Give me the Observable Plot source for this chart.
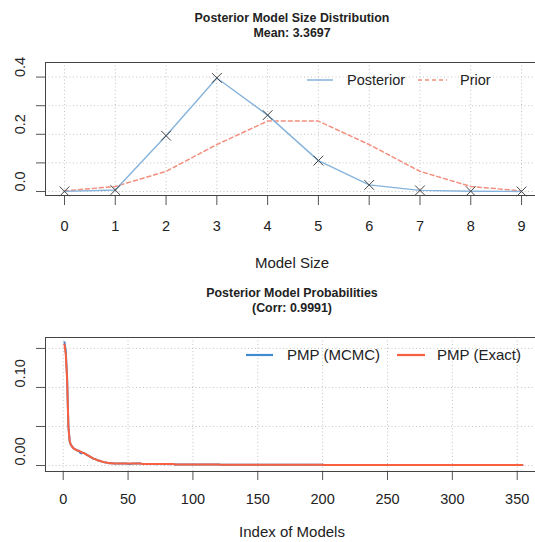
<!DOCTYPE html>
<html><head><meta charset="utf-8">
<script src="https://cdn.jsdelivr.net/npm/d3@7"></script>
<script src="https://cdn.jsdelivr.net/npm/@observablehq/plot@0.6"></script>
<style>
body{margin:0;background:#fff;}
#wrap{position:relative;width:535px;height:542px;overflow:hidden;font-family:"Liberation Sans",Arial,sans-serif;color:#222;}
.title{position:absolute;left:0;width:584px;text-align:center;font-weight:bold;font-size:12.4px;line-height:14px;white-space:nowrap;}
.axt{position:absolute;left:0;width:584px;text-align:center;font-size:15px;line-height:15px;white-space:nowrap;}
.plot{position:absolute;left:0;}
#legend{position:absolute;left:0;top:0;}
</style></head>
<body><div id="wrap">
<div class="title" style="top:11px">Posterior Model Size Distribution</div>
<div class="title" style="top:26px">Mean: 3.3697</div>
<div class="axt" style="top:255px">Model Size</div>
<div class="title" style="top:286px">Posterior Model Probabilities</div>
<div class="title" style="top:301px">(Corr: 0.9991)</div>
<div class="axt" style="top:524px">Index of Models</div>
</div>
<script>
// ---- data: model size distribution ----
const modelSize = [0, 1, 2, 3, 4, 5, 6, 7, 8, 9];
const posteriorSize = [0.0005, 0.005, 0.195, 0.397, 0.267, 0.108, 0.023, 0.004, 0.001, 0.0002];
const priorSize = [0.002, 0.0176, 0.0703, 0.1641, 0.2461, 0.2461, 0.1641, 0.0703, 0.0176, 0.002];
const sizeTicks = [0, 1, 2, 3, 4, 5, 6, 7, 8, 9];
const sizeYTicks = [0, 0.1, 0.2, 0.3, 0.4];
const sizeYLabels = ["0.0", "0.2", "0.4"];

// ---- data: posterior model probabilities (sorted by exact PMP) ----
const pmpExactHead = [0.155, 0.142, 0.110, 0.050, 0.031, 0.026, 0.024, 0.022, 0.021, 0.020,
  0.019, 0.019, 0.018, 0.017, 0.016, 0.016, 0.015, 0.014, 0.013, 0.012,
  0.011, 0.010, 0.009, 0.0085, 0.008, 0.007, 0.0065, 0.006, 0.0055, 0.005,
  0.0045, 0.004, 0.0037, 0.0034, 0.0032, 0.003, 0.0029, 0.0028, 0.0027, 0.0026];
// tail read as flat runs: [number of models, pmp]
const pmpExactTail = [[20, 0.0024], [25, 0.0020], [35, 0.0012], [80, 0.0009], [80, 0.0007], [74, 0.0005]];
// MCMC estimates where they visibly differ from exact: [model index, pmp]
const pmpMcmcDiffs = [[1, 0.158], [2, 0.146], [3, 0.113], [13, 0.0165], [14, 0.0155], [15, 0.0165], [50, 0.0019], [52, 0.0018], [72, 0.0017], [78, 0.0017], [82, 0.0016]];
const indexTicks = [0, 50, 100, 150, 200, 250, 300, 350];
const pmpYTicks = [0, 0.05, 0.10, 0.15];
const pmpYLabels = ["0.00", "0.10"];

const seriesLabels = {posterior: "Posterior", prior: "Prior", mcmc: "PMP (MCMC)", exact: "PMP (Exact)"};
const colors = {posterior: "#86b3dc", prior: "#f38f7f", mcmc: "#3f8ad2", exact: "#f8603f"};

// build tables
const sizeRows = modelSize.map((k, i) => ({k, post: posteriorSize[i], prior: priorSize[i]}));
const exact = pmpExactHead.slice();
for (const [n, v] of pmpExactTail) for (let j = 0; j < n; j++) exact.push(v);
const mcmc = exact.slice();
for (const [i, v] of pmpMcmcDiffs) mcmc[i - 1] = v;
const pmpRows = exact.map((v, i) => ({idx: i + 1, exact: v, mcmc: mcmc[i]}));

const font = '"Liberation Sans", Arial, sans-serif';
const gridStyle = {stroke: "#c4c4c4", strokeOpacity: 1, strokeDasharray: "1,2.5"};
const axColor = "#555";

const topPlot = Plot.plot({
  width: 535, height: 230, marginLeft: 45, marginRight: 0, marginTop: 12, marginBottom: 85,
  style: {fontFamily: font, fontSize: "14px", color: "#222", background: "transparent"},
  x: {domain: [-0.374, 9.275]},
  y: {domain: [-0.014, 0.451]},
  marks: [
    Plot.gridX(sizeTicks, gridStyle),
    Plot.gridY(sizeYTicks, gridStyle),
    Plot.axisX(sizeTicks, {tickSize: 10, tickPadding: 15, label: null, stroke: axColor, strokeOpacity: 1, fontSize: 14.5, fill: "#222"}),
    Plot.axisY(sizeYTicks, {tickSize: 9, tickFormat: () => "", label: null, stroke: axColor, strokeOpacity: 1}),
    Plot.text(sizeYLabels, {y: d => +d, text: d => d, frameAnchor: "left", dx: -25, rotate: -90, fontSize: 14.5, fill: "#222"}),
    Plot.line(sizeRows, {x: "k", y: "prior", stroke: colors.prior, strokeWidth: 1.5, strokeDasharray: "4,3"}),
    Plot.line(sizeRows, {x: "k", y: "post", stroke: colors.posterior, strokeWidth: 1.4}),
    Plot.dot(sizeRows, {x: "k", y: "post", symbol: "times", r: 4.5, stroke: "#444", strokeWidth: 1}),
    Plot.frame({anchor: "left", stroke: "#444"}),
    Plot.frame({anchor: "top", stroke: "#444"}),
    Plot.frame({anchor: "bottom", stroke: "#444"})
  ]
});
topPlot.classList.add("plot");
topPlot.style.top = "50px";

const botPlot = Plot.plot({
  width: 535, height: 222, marginLeft: 45, marginRight: 0, marginTop: 17, marginBottom: 71,
  style: {fontFamily: font, fontSize: "14px", color: "#222", background: "transparent"},
  x: {domain: [-13.65, 364.1]},
  y: {domain: [-0.0077, 0.164]},
  marks: [
    Plot.gridX(indexTicks, gridStyle),
    Plot.gridY(pmpYTicks, gridStyle),
    Plot.axisX(indexTicks, {tickSize: 9, tickPadding: 13, label: null, stroke: axColor, strokeOpacity: 1, fontSize: 14.5, fill: "#222"}),
    Plot.axisY(pmpYTicks, {tickSize: 9, tickFormat: () => "", label: null, stroke: axColor, strokeOpacity: 1}),
    Plot.text(pmpYLabels, {y: d => +d, text: d => d, frameAnchor: "left", dx: -25, rotate: -90, fontSize: 14.5, fill: "#222"}),
    Plot.line(pmpRows, {x: "idx", y: "mcmc", stroke: colors.mcmc, strokeWidth: 2}),
    Plot.line(pmpRows, {x: "idx", y: "exact", stroke: colors.exact, strokeWidth: 2}),
    Plot.frame({anchor: "left", stroke: "#444"}),
    Plot.frame({anchor: "top", stroke: "#444"}),
    Plot.frame({anchor: "bottom", stroke: "#444"})
  ]
});
botPlot.classList.add("plot");
botPlot.style.top = "320px";

const wrap = document.getElementById("wrap");
wrap.appendChild(topPlot);
wrap.appendChild(botPlot);

// legends (no box, drawn over the plot panels)
const leg = d3.create("svg").attr("id", "legend").attr("width", 535).attr("height", 542)
  .style("font-family", font);
const legendItems = [
  {key: "posterior", x1: 307, x2: 333, y: 80, tx: 347, dash: null, w: 1.5, fs: 14.5},
  {key: "prior", x1: 418, x2: 447, y: 80, tx: 460, dash: "4,3", w: 1.5, fs: 14.5},
  {key: "mcmc", x1: 246, x2: 273, y: 355, tx: 287, dash: null, w: 2.2, fs: 15},
  {key: "exact", x1: 397, x2: 425, y: 355, tx: 437, dash: null, w: 2.2, fs: 15}
];
for (const it of legendItems) {
  leg.append("line").attr("x1", it.x1).attr("x2", it.x2).attr("y1", it.y).attr("y2", it.y)
    .attr("stroke", colors[it.key]).attr("stroke-width", it.w).attr("stroke-dasharray", it.dash);
  leg.append("text").attr("x", it.tx).attr("y", it.y).attr("dy", "0.35em")
    .attr("font-size", it.fs).attr("fill", "#222").text(seriesLabels[it.key]);
}
wrap.appendChild(leg.node());
</script>
</body></html>
